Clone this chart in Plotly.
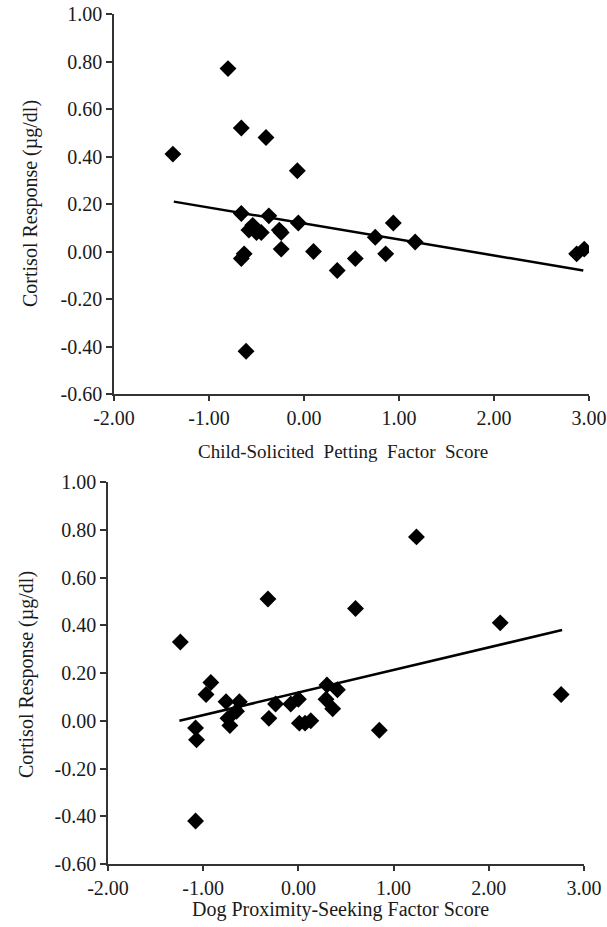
import plotly.graph_objects as go

# Top panel: Child-Solicited Petting factor score vs cortisol response
petting_x = [-1.38, -0.80, -0.66, -0.40, -0.07, -0.66, -0.37, -0.06, -0.54, -0.58,
             -0.50, -0.45, -0.26, -0.24, -0.24, -0.66, -0.63, 0.10, 0.35, -0.61,
             0.54, 0.75, 0.86, 0.94, 1.17, 2.87, 2.95]
petting_y = [0.41, 0.77, 0.52, 0.48, 0.34, 0.16, 0.15, 0.12, 0.11, 0.09,
             0.08, 0.08, 0.09, 0.08, 0.01, -0.03, -0.01, 0.00, -0.08, -0.42,
             -0.03, 0.06, -0.01, 0.12, 0.04, -0.01, 0.01]
petting_fit_x = [-1.37, 2.94]
petting_fit_y = [0.21, -0.08]

# Bottom panel: Dog Proximity-Seeking factor score vs cortisol response
proximity_x = [-1.24, -0.92, -0.32, 1.24, 0.60, 2.12, 0.30, 0.41, 0.29, 0.36,
               0.85, 2.76, -0.97, -0.76, -0.62, -0.74, -0.65, -0.72, -1.08, -1.07,
               -1.08, -0.31, -0.24, -0.08, 0.00, 0.01, 0.07, 0.13]
proximity_y = [0.33, 0.16, 0.51, 0.77, 0.47, 0.41, 0.15, 0.13, 0.09, 0.05,
               -0.04, 0.11, 0.11, 0.08, 0.08, 0.01, 0.04, -0.02, -0.03, -0.08,
               -0.42, 0.01, 0.07, 0.07, 0.09, -0.01, -0.01, 0.00]
proximity_fit_x = [-1.25, 2.77]
proximity_fit_y = [0.00, 0.38]

x_ticks = [-2, -1, 0, 1, 2, 3]
y_ticks = [-0.6, -0.4, -0.2, 0.0, 0.2, 0.4, 0.6, 0.8, 1.0]

y_title = "Cortisol Response (µg/dl)"
top_x_title = "Child-Solicited  Petting  Factor  Score"
bottom_x_title = "Dog Proximity-Seeking Factor Score"

FONT = "Liberation Serif, Times New Roman, serif"
TXT = "#1a1a1a"
W, H = 607, 927
ML, MR, MT, MB = 108, 18, 14, 63
PW, PH = W - ML - MR, H - MT - MB


def px(x):
    return (x - ML) / PW


def py(y):
    return (H - MB - y) / PH


fig = go.Figure()

fig.add_trace(go.Scatter(x=petting_x, y=petting_y, mode="markers",
                         marker=dict(symbol="diamond", size=13, color="black"),
                         xaxis="x", yaxis="y", showlegend=False))
fig.add_trace(go.Scatter(x=petting_fit_x, y=petting_fit_y, mode="lines",
                         line=dict(color="black", width=2.5),
                         xaxis="x", yaxis="y", showlegend=False))
fig.add_trace(go.Scatter(x=proximity_x, y=proximity_y, mode="markers",
                         marker=dict(symbol="diamond", size=13, color="black"),
                         xaxis="x2", yaxis="y2", showlegend=False))
fig.add_trace(go.Scatter(x=proximity_fit_x, y=proximity_fit_y, mode="lines",
                         line=dict(color="black", width=2.5),
                         xaxis="x2", yaxis="y2", showlegend=False))

xcommon = dict(range=[-2, 3], tickvals=x_ticks, ticktext=[f"{v:.2f}" for v in x_ticks],
               showgrid=False, zeroline=False, showline=True, linecolor="#333333",
               linewidth=1.5, ticks="outside", ticklen=5, tickwidth=1.5, tickcolor="#333333",
               ticklabeloverflow="allow",
               tickfont=dict(family=FONT, size=20, color=TXT))
ycommon = dict(range=[-0.6, 1.0], tickvals=y_ticks, ticktext=[f"{v:.2f}" for v in y_ticks],
               showgrid=False, zeroline=False, showline=True, linecolor="#333333",
               linewidth=1.5, ticks="outside", ticklen=6, tickwidth=1.5, tickcolor="#333333",
               ticklabeloverflow="allow",
               tickfont=dict(family=FONT, size=20, color=TXT))

fig.update_layout(
    width=W, height=H,
    margin=dict(l=ML, r=MR, t=MT, b=MB, autoexpand=False),
    paper_bgcolor="white", plot_bgcolor="white",
    xaxis=dict(domain=[px(114), px(589)], anchor="y", **xcommon),
    yaxis=dict(domain=[py(394), py(14)], anchor="x", **ycommon),
    xaxis2=dict(domain=[px(108), px(584)], anchor="y2", **xcommon),
    yaxis2=dict(domain=[py(864), py(482)], anchor="x2", **ycommon),
    annotations=[
        dict(text=y_title, x=px(31), y=py(204), xref="paper", yref="paper",
             xanchor="center", yanchor="middle",
             textangle=-90, showarrow=False, font=dict(family=FONT, size=20, color=TXT)),
        dict(text=y_title, x=px(26), y=py(675), xref="paper", yref="paper",
             xanchor="center", yanchor="middle",
             textangle=-90, showarrow=False, font=dict(family=FONT, size=20, color=TXT)),
        dict(text=top_x_title, x=px(343), y=py(451), xref="paper", yref="paper",
             xanchor="center", yanchor="middle",
             showarrow=False, font=dict(family=FONT, size=19, color=TXT)),
        dict(text=bottom_x_title, x=px(340), y=py(909), xref="paper", yref="paper",
             xanchor="center", yanchor="middle",
             showarrow=False, font=dict(family=FONT, size=20, color=TXT)),
    ],
)

fig.write_html("out.html", config={"displayModeBar": False},
               post_script="document.body.style.margin='0';")
